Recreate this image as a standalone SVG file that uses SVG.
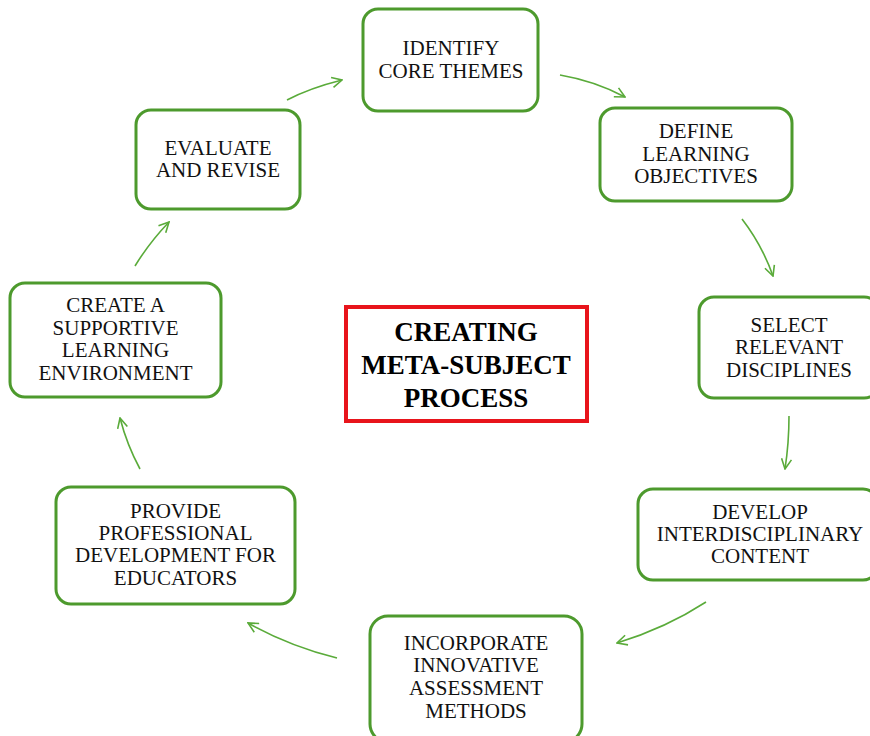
<svg xmlns="http://www.w3.org/2000/svg" width="870" height="736" viewBox="0 0 870 736">
<defs>
<style>
.node{fill:#fff;stroke:#4d9a2d;stroke-width:3}
.t{font-family:"Liberation Serif","Times New Roman",serif;font-size:21px;fill:#111;text-anchor:middle}
.title{font-family:"Liberation Serif","Times New Roman",serif;font-size:27px;font-weight:bold;fill:#000;text-anchor:middle}
.c{fill:none;stroke:#5aab3a;stroke-width:1.6}
</style>
<marker id="ah" viewBox="0 0 12 12" refX="11" refY="6" markerWidth="12" markerHeight="12" markerUnits="userSpaceOnUse" orient="auto">
<path d="M1,1 L11,6 L1,11" fill="none" stroke="#5aab3a" stroke-width="1.6"/>
</marker>
</defs>
<rect width="870" height="736" fill="#fff"/>
<g id="connectors">
<path class="c" marker-end="url(#ah)" d="M287,100 Q310,88 342,80"/>
<path class="c" marker-end="url(#ah)" d="M560,75 Q595,81 625,97"/>
<path class="c" marker-end="url(#ah)" d="M742,219 Q762,245 773,276"/>
<path class="c" marker-end="url(#ah)" d="M789,416 Q789,443 785,469"/>
<path class="c" marker-end="url(#ah)" d="M706,602 Q666,628 617,643"/>
<path class="c" marker-end="url(#ah)" d="M337,658 Q289,646 248,623"/>
<path class="c" marker-end="url(#ah)" d="M140,469 Q127,445 120,418"/>
<path class="c" marker-end="url(#ah)" d="M135,266 Q149,243 169,222"/>
</g>
<g id="center">
<rect x="346" y="307" width="241" height="114" fill="#fff" stroke="#e8141b" stroke-width="4"/>
<text class="title" x="466" y="341">CREATING</text>
<text class="title" x="466" y="374">META-SUBJECT</text>
<text class="title" x="466" y="407">PROCESS</text>
</g>
<g id="n1">
<rect class="node" x="363" y="9" width="175" height="102" rx="15"/>
<text class="t" x="451" y="55">IDENTIFY</text>
<text class="t" x="451" y="78">CORE THEMES</text>
</g>
<g id="n2">
<rect class="node" x="600" y="108" width="192" height="93" rx="15"/>
<text class="t" x="696" y="138">DEFINE</text>
<text class="t" x="696" y="161">LEARNING</text>
<text class="t" x="696" y="183">OBJECTIVES</text>
</g>
<g id="n3">
<rect class="node" x="699" y="297" width="180" height="101" rx="15"/>
<text class="t" x="789" y="332">SELECT</text>
<text class="t" x="789" y="354">RELEVANT</text>
<text class="t" x="789" y="377">DISCIPLINES</text>
</g>
<g id="n4">
<rect class="node" x="638" y="489" width="240" height="91" rx="15"/>
<text class="t" x="760" y="519">DEVELOP</text>
<text class="t" x="760" y="541">INTERDISCIPLINARY</text>
<text class="t" x="760" y="563">CONTENT</text>
</g>
<g id="n5">
<rect class="node" x="370" y="616" width="212" height="126" rx="18"/>
<text class="t" x="476" y="650">INCORPORATE</text>
<text class="t" x="476" y="672">INNOVATIVE</text>
<text class="t" x="476" y="695">ASSESSMENT</text>
<text class="t" x="476" y="718">METHODS</text>
</g>
<g id="n6">
<rect class="node" x="56" y="487" width="239" height="117" rx="15"/>
<text class="t" x="175.5" y="518">PROVIDE</text>
<text class="t" x="175.5" y="540">PROFESSIONAL</text>
<text class="t" x="175.5" y="562">DEVELOPMENT FOR</text>
<text class="t" x="175.5" y="585">EDUCATORS</text>
</g>
<g id="n7">
<rect class="node" x="10" y="283" width="211" height="114" rx="15"/>
<text class="t" x="115.5" y="312">CREATE A</text>
<text class="t" x="115.5" y="335">SUPPORTIVE</text>
<text class="t" x="115.5" y="357">LEARNING</text>
<text class="t" x="115.5" y="380">ENVIRONMENT</text>
</g>
<g id="n8">
<rect class="node" x="136" y="110" width="164" height="99" rx="15"/>
<text class="t" x="218" y="155">EVALUATE</text>
<text class="t" x="218" y="177">AND REVISE</text>
</g>
</svg>
